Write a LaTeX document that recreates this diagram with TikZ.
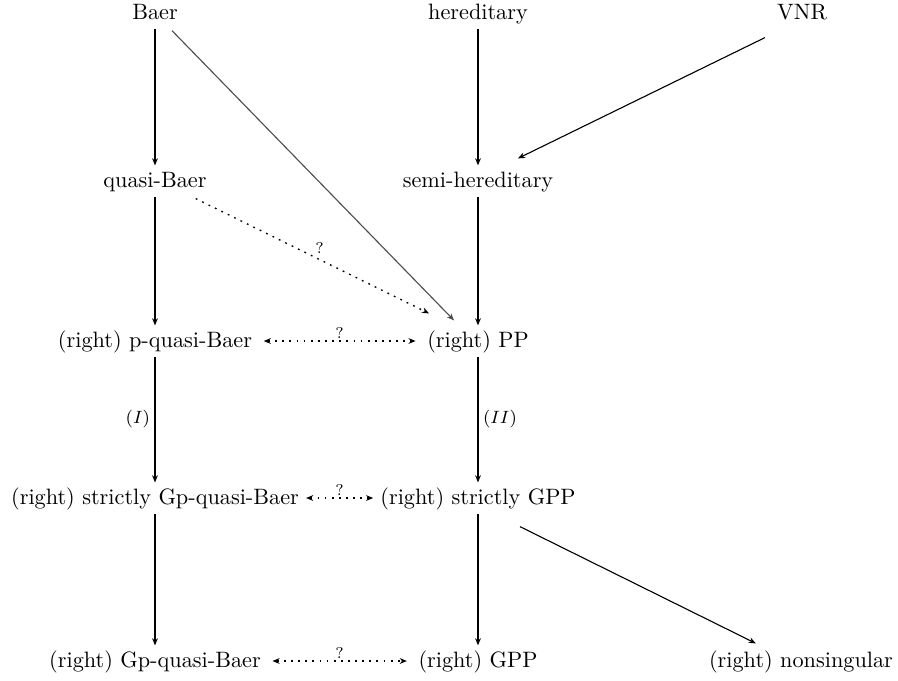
\documentclass[tikz,border=0pt]{standalone}
\usepackage{amsmath}
\usepackage{tikz}
\usetikzlibrary{calc,arrows.meta}

\begin{document}
\begin{tikzpicture}[x=0.0158cm,y=-0.0158cm,line width=0.5pt,
    obj/.style={anchor=base,inner sep=3pt,text height=1.5ex,text depth=.25ex},
    imp/.style={-{Stealth[length=3.2pt,width=2.6pt]}},
    dots/.style={dash pattern=on 0.8pt off 2.4pt,line width=0.6pt},
    ask/.style={dots,{Stealth[length=3.2pt,width=2.6pt]}-{Stealth[length=3.2pt,width=2.6pt]},shorten <=2pt,shorten >=2pt},
    qm/.style={font=\scriptsize,inner sep=1pt},
    lbl/.style={font=\footnotesize,inner sep=2pt}]
    \useasboundingbox (0,0) rectangle (898,680);
    % the objects
    \node[obj] (baer)  at (155,19)  {Baer};  \node[obj] (her)  at (478,19)  {hereditary};  \node[obj] (vnr) at (802,19) {VNR};
    \node[obj] (qb)    at (155,187) {quasi-Baer};  \node[obj] (sher) at (478,187) {semi-hereditary};
    \node[obj] (pqb)   at (155,347) {(right) p-quasi-Baer};  \node[obj] (pp) at (478,347) {(right) PP};
    \node[obj] (sgpqb) at (155,504) {(right) strictly Gp-quasi-Baer};  \node[obj] (sgpp) at (478,504) {(right) strictly GPP};
    \node[obj] (gpqb)  at (155,667) {(right) Gp-quasi-Baer};  \node[obj] (gpp) at (478,667) {(right) GPP};
    \node[obj] (ns)    at (801,667) {(right) nonsingular};
    % the implications
    \draw[imp] (baer) -- (qb);   \draw[imp] (her) -- (sher);
    \draw[imp] (qb) -- (pqb);    \draw[imp] (sher) -- (pp);
    \draw[imp] (pqb) -- node[lbl,left] {$(I)$} (sgpqb);
    \draw[imp] (pp) -- node[lbl,right] {$(II)$} (sgpp);
    \draw[imp] (sgpqb) -- (gpqb);  \draw[imp] (sgpp) -- (gpp);
    \draw[imp,black!70] ($(baer.south east)+(-13,2)$) -- ($(pp.north west)+(34,-5)$);
    \draw[imp] ($(vnr.south west)+(-5,9)$) -- ($(sher.north)+(40,-7)$);
    \draw[imp] ($(sgpp.south)+(42,13)$) -- ($(ns.north west)+(54,-2)$);
    % the open questions
    \draw[imp,dots] ($(qb.south east)+(-18,2)$) -- node[qm,above right] {?} ($(pp.north west)+(9,-12)$);
    \draw[ask] (pqb) -- node[qm,above] {?} (pp);
    \draw[ask,shorten <=0pt,shorten >=0pt] (sgpqb) -- node[qm,above] {?} (sgpp);
    \draw[ask] (gpqb) -- node[qm,above] {?} (gpp);
\end{tikzpicture}
\end{document}
